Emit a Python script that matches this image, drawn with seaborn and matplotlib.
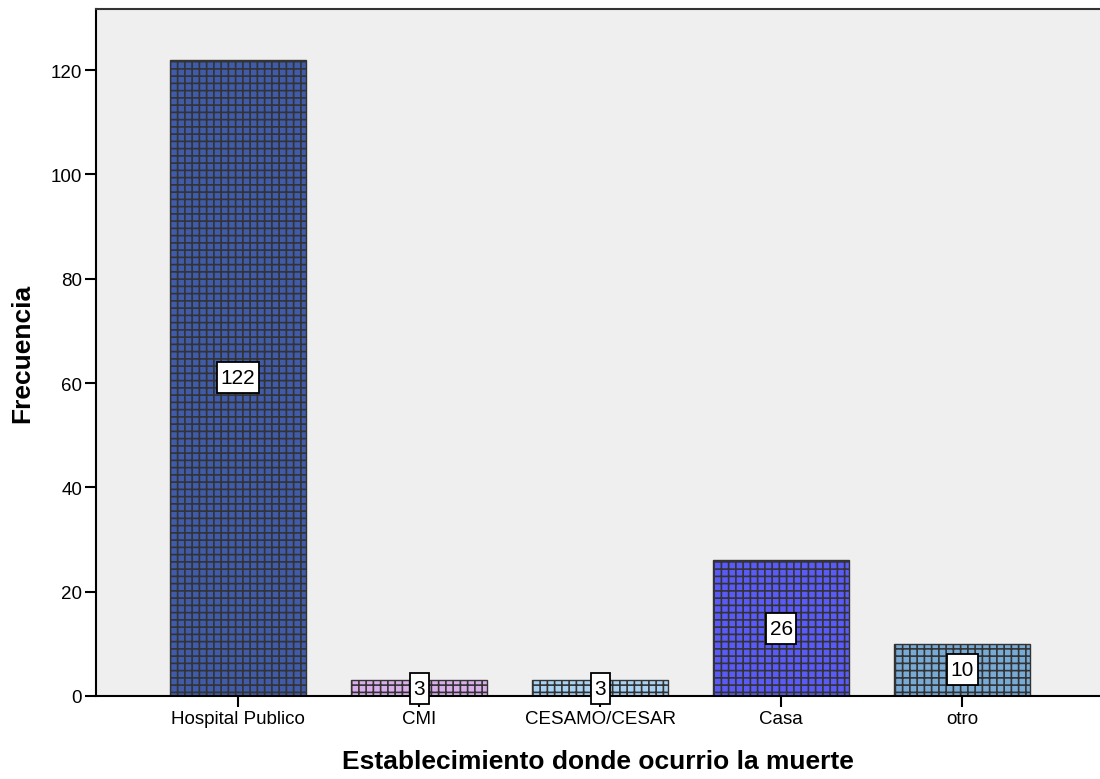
import matplotlib
matplotlib.use("Agg")
import matplotlib.pyplot as plt
import seaborn as sns
import pandas as pd

categorias = ["Hospital Publico", "CMI", "CESAMO/CESAR", "Casa", "otro"]
frecuencias = [122, 3, 3, 26, 10]
colores = ["#3F5BAA", "#D9AEEA", "#A9D1F2", "#5A5AF8", "#78AAD6"]

# Render at 87 dpi so the '++' hatch grid gets a ~7 px cell; point sizes
# are scaled by S to keep their pixel size.
DPI = 87
S = 100 / DPI

sns.set_theme(style="white")
plt.rcParams["font.family"] = ["Liberation Sans", "DejaVu Sans"]
plt.rcParams["hatch.linewidth"] = 1.2 * S
plt.rcParams["hatch.color"] = "black"
plt.rcParams["text.color"] = "black"
plt.rcParams["axes.labelcolor"] = "black"

df = pd.DataFrame({"cat": categorias, "freq": frecuencias})

fig = plt.figure(figsize=(1100 / DPI, 780 / DPI), dpi=DPI)
ax = fig.add_axes([96 / 1100, 1 - 697 / 780, 1 - 96 / 1100, (697 - 10) / 780])
ax.set_facecolor("#EFEFEF")

sns.barplot(data=df, x="cat", y="freq", hue="cat", palette=colores,
            order=categorias, hue_order=categorias, width=0.75,
            legend=False, ax=ax, edgecolor="#333333", linewidth=1.0 * S,
            saturation=1)

for p in ax.patches:
    p.set_hatch("++")

# value labels in white boxes, taller than wide in their padding
for i, v in enumerate(frecuencias):
    ax.text(i, v / 2, str(v), ha="center", va="center", fontsize=15 * S,
            color="black", clip_on=False, zorder=5,
            bbox=dict(boxstyle="square,pad=0.17", fc="white", ec="black",
                      lw=1.3 * S, mutation_aspect=1.7))

ax.set_xlim(-0.785, 4.76)
ax.set_ylim(0, 131.7)
ax.set_yticks([0, 20, 40, 60, 80, 100, 120])
ax.tick_params(axis="both", direction="out", length=8 * S, width=1.5 * S,
               color="black", labelsize=13.5 * S, labelcolor="black",
               pad=2 * S, bottom=True, left=True)

for side in ["left", "bottom"]:
    ax.spines[side].set_color("black")
    ax.spines[side].set_linewidth(1.5 * S)
ax.spines["top"].set_color("#333333")
ax.spines["top"].set_linewidth(1.5 * S)
ax.spines["right"].set_visible(False)

ax.set_xlabel("Establecimiento donde ocurrio la muerte", fontsize=19 * S,
              fontweight="bold", labelpad=16 * S)
ax.set_ylabel("Frecuencia", fontsize=19 * S, fontweight="bold",
              labelpad=12 * S)

fig.savefig("out.png", dpi=DPI)
